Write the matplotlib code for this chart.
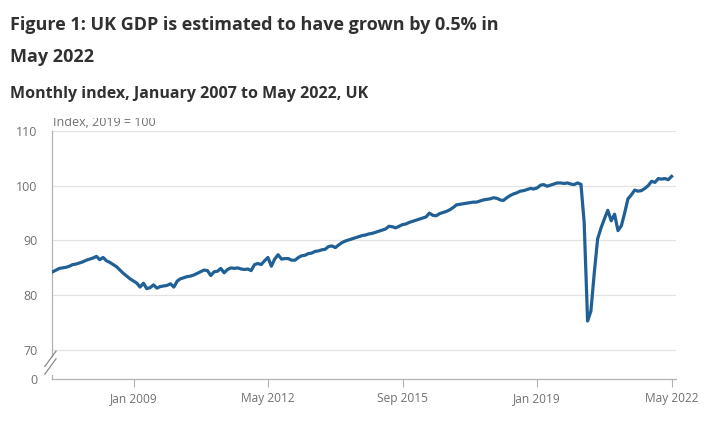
import matplotlib
matplotlib.use("Agg")
import matplotlib.pyplot as plt
from matplotlib.transforms import Bbox, TransformedBbox
import pandas as pd

# monthly GDP index, 2019 = 100, Jan 2007 .. May 2022
gdp_2007 = [84.3, 84.6, 84.9, 85.0, 85.1, 85.3, 85.6, 85.7, 85.9, 86.1, 86.4, 86.6]
gdp_2008 = [86.8, 87.1, 86.5, 86.9, 86.3, 86.0, 85.6, 85.2, 84.6, 84.0, 83.5, 83.0]
gdp_2009 = [82.6, 82.2, 81.5, 82.2, 81.2, 81.4, 81.9, 81.3, 81.6, 81.7, 81.8, 82.1]
gdp_2010 = [81.5, 82.6, 83.0, 83.2, 83.4, 83.5, 83.7, 84.0, 84.3, 84.6, 84.5, 83.6]
gdp_2011 = [84.3, 84.4, 84.9, 84.1, 84.7, 85.0, 84.9, 85.0, 84.8, 84.7, 84.8, 84.5]
gdp_2012 = [85.6, 85.8, 85.6, 86.3, 86.9, 85.3, 86.6, 87.4, 86.6, 86.7, 86.7, 86.4]
gdp_2013 = [86.4, 86.9, 87.2, 87.3, 87.6, 87.7, 88.0, 88.1, 88.3, 88.4, 88.9, 89.0]
gdp_2014 = [88.7, 89.2, 89.6, 89.9, 90.1, 90.3, 90.5, 90.7, 90.9, 91.0, 91.2, 91.3]
gdp_2015 = [91.5, 91.7, 91.9, 92.1, 92.6, 92.5, 92.3, 92.6, 92.9, 93.0, 93.3, 93.5]
gdp_2016 = [93.7, 93.9, 94.1, 94.3, 95.0, 94.6, 94.5, 94.9, 95.1, 95.3, 95.6, 96.0]
gdp_2017 = [96.5, 96.6, 96.7, 96.8, 96.9, 97.0, 97.0, 97.2, 97.4, 97.5, 97.6, 97.8]
gdp_2018 = [97.7, 97.4, 97.3, 97.8, 98.2, 98.5, 98.7, 99.0, 99.1, 99.3, 99.5, 99.4]
gdp_2019 = [99.6, 100.1, 100.2, 99.9, 100.1, 100.3, 100.5, 100.5, 100.4, 100.5, 100.3, 100.2]
gdp_2020 = [100.5, 100.25, 93.3, 75.3, 77.1, 84.2, 90.3, 92.3, 94.0, 95.5, 93.6, 94.8]
gdp_2021 = [91.8, 92.7, 94.9, 97.6, 98.3, 99.2, 99.0, 99.1, 99.5, 100.0, 100.8, 100.6]
gdp_2022 = [101.3, 101.2, 101.3, 101.1, 101.7]

gdp = (gdp_2007 + gdp_2008 + gdp_2009 + gdp_2010 + gdp_2011 + gdp_2012 + gdp_2013
       + gdp_2014 + gdp_2015 + gdp_2016 + gdp_2017 + gdp_2018 + gdp_2019 + gdp_2020
       + gdp_2021 + gdp_2022)
months = pd.date_range("2007-01-01", periods=len(gdp), freq="MS")

xtick_dates = ["2009-01-01", "2012-05-01", "2015-09-01", "2019-01-01", "2022-05-01"]
xtick_labels = ["Jan 2009", "May 2012", "Sep 2015", "Jan 2019", "May 2022"]
ytick_values = [70, 80, 90, 100, 110]
y_axis_floor = 64.7  # where the broken axis shows "0"

blue = "#206095"
grid_col = "#e2e2e2"
axis_col = "#b3b3b3"
label_col = "#707071"
title_col = "#323132"

plt.rcParams["font.family"] = ["Open Sans", "DejaVu Sans"]

fig = plt.figure(figsize=(7.16, 4.25), dpi=100)
ax = fig.add_axes([0.073, 0.108, 0.871, 0.584])

ax.plot(months, gdp, color=blue, linewidth=2.3, solid_joinstyle="round", zorder=3)

ax.set_ylim(y_axis_floor, 110)
ax.set_xlim(pd.Timestamp("2006-12-28"), pd.Timestamp("2022-06-09"))

ax.set_yticks([y_axis_floor] + ytick_values)
ax.set_yticklabels(["0"] + [str(v) for v in ytick_values])
ax.tick_params(axis="y", length=0, pad=10.5, labelsize=9, labelcolor=label_col)
for v in ytick_values:
    ax.axhline(v, color=grid_col, linewidth=0.9, zorder=1)

ax.set_xticks([pd.Timestamp(d) for d in xtick_dates])
ax.set_xticklabels(xtick_labels)
ax.tick_params(axis="x", length=6, width=0.8, color=axis_col, pad=3,
               labelsize=8.6, labelcolor=label_col)

for s in ["top", "right"]:
    ax.spines[s].set_visible(False)
ax.spines["bottom"].set_color(axis_col)
ax.spines["left"].set_color(axis_col)
ax.spines["bottom"].set_linewidth(0.9)
ax.spines["left"].set_linewidth(0.9)
# gap in left spine for the axis break
ax.spines["left"].set_bounds(69.0, 110)
ax.plot([0, 0], [y_axis_floor, 65.5], color=axis_col, linewidth=0.9,
        transform=ax.get_yaxis_transform(), clip_on=False, zorder=2)

# break marks "//"
for dy in [0.0, 1.4]:
    ax.plot([-0.012, 0.006], [65.6 + dy, 68.4 + dy], color="#8a8a8a", linewidth=0.9,
            transform=ax.get_yaxis_transform(), clip_on=False, zorder=4)

# y-axis label, top half hidden as in the original
t = fig.text(0.074, 0.697, "Index, 2019 = 100", fontsize=9, color=label_col,
             ha="left", va="bottom")
t.set_clip_box(TransformedBbox(Bbox([[0, 0], [1, 0.722]]), fig.transFigure))
t.set_clip_on(True)

fig.text(0.014, 0.93, "Figure 1: UK GDP is estimated to have grown by 0.5% in",
         fontsize=13, fontweight="bold", color=title_col, ha="left", va="baseline")
fig.text(0.014, 0.855, "May 2022", fontsize=13, fontweight="bold", color=title_col,
         ha="left", va="baseline")
fig.text(0.014, 0.77, "Monthly index, January 2007 to May 2022, UK", fontsize=11.5,
         fontweight="bold", color=title_col, ha="left", va="baseline")

fig.savefig("out.png", dpi=100, facecolor="white")
